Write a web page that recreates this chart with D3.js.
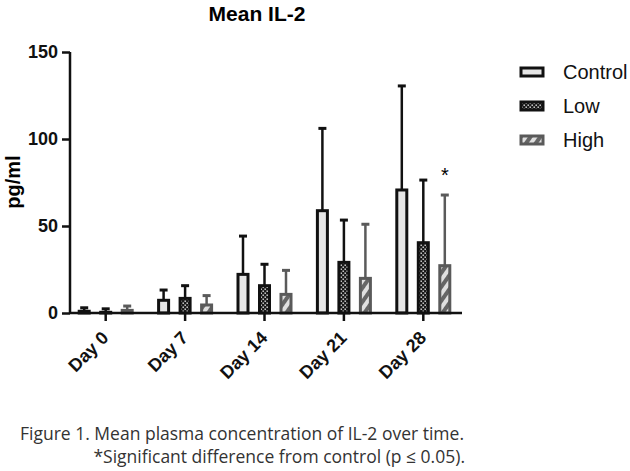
<!DOCTYPE html>
<html>
<head>
<meta charset="utf-8">
<script src="https://cdn.jsdelivr.net/npm/d3@7"></script>
<style>
  body { margin: 0; background: #fff; }
  svg { display: block; }
</style>
</head>
<body>
<div id="chartArea"></div>
<script>
// data
const days = ['Day 0', 'Day 7', 'Day 14', 'Day 21', 'Day 28']
const groups = ['Control', 'Low', 'High']
const controlMean = [1, 7.3, 22.2, 58.8, 70.7]
const controlErr = [3, 13.2, 44.2, 106.1, 130.5]
const lowMean = [0.4, 8.4, 15.7, 29.1, 40.4]
const lowErr = [2.4, 15.7, 28, 53.4, 76.4]
const highMean = [1.5, 4.6, 10.7, 19.9, 27.2]
const highErr = [4, 10, 24.5, 51, 67.8]
const yTicks = [0, 50, 100, 150]
const significant = [{ day: 'Day 28', group: 'High' }]

const width = 630
const height = 471
const font = 'Liberation Sans, Arial, sans-serif'

const svg = d3
  .select('#chartArea')
  .append('svg')
  .attr('width', width)
  .attr('height', height)

// build rows for the bars
const means = { Control: controlMean, Low: lowMean, High: highMean }
const errs = { Control: controlErr, Low: lowErr, High: highErr }
const rows = []
groups.forEach(g => {
  days.forEach((d, i) => {
    rows.push({ day: d, group: g, mean: means[g][i], hi: errs[g][i] })
  })
})

const xScale = d3.scaleBand().domain(days).range([66, 463])
const subScale = d3.scalePoint().domain(groups).range([-21.5, 21.5])
const yScale = d3.scaleLinear().domain([0, 150]).range([313, 52])
const cx = d => xScale(d.day) + xScale.bandwidth() / 2 + subScale(d.group)

// patterns
const defs = svg.append('defs')
const dots = defs
  .append('pattern')
  .attr('id', 'dots')
  .attr('patternUnits', 'userSpaceOnUse')
  .attr('width', 4)
  .attr('height', 4)
dots.append('rect').attr('width', 4).attr('height', 4).attr('fill', '#1a1a1a')
dots.append('rect').attr('x', 0.5).attr('y', 0.5).attr('width', 1.4).attr('height', 1.4).attr('fill', '#e8e8e8')
dots.append('rect').attr('x', 2.5).attr('y', 2.5).attr('width', 1.4).attr('height', 1.4).attr('fill', '#e8e8e8')

const stripes = defs
  .append('pattern')
  .attr('id', 'stripes')
  .attr('patternUnits', 'userSpaceOnUse')
  .attr('width', 8)
  .attr('height', 8)
  .attr('patternTransform', 'rotate(35)')
stripes.append('rect').attr('width', 8).attr('height', 8).attr('fill', '#666')
stripes.append('rect').attr('width', 4).attr('height', 8).attr('fill', '#e0e0e0')

const styles = {
  Control: { fill: '#e6e6e6', stroke: '#111' },
  Low: { fill: 'url(#dots)', stroke: '#111' },
  High: { fill: 'url(#stripes)', stroke: '#5a5a5a' }
}

// title
svg
  .append('text')
  .attr('x', 257)
  .attr('y', 21)
  .attr('text-anchor', 'middle')
  .attr('font-family', font)
  .attr('font-weight', 'bold')
  .attr('font-size', 21)
  .text('Mean IL-2')

// y axis
const yAxis = svg
  .append('g')
  .attr('transform', 'translate(70,0)')
  .call(d3.axisLeft(yScale).tickValues(yTicks).tickSize(8).tickPadding(4))
yAxis.select('.domain').attr('stroke', '#111').attr('stroke-width', 2.5)
  .attr('d', `M0,${yScale(150)}V${yScale(0)}`)
yAxis.selectAll('.tick line').attr('stroke', '#111').attr('stroke-width', 2.5)
yAxis
  .selectAll('.tick text')
  .attr('font-family', font)
  .attr('font-weight', 'bold')
  .attr('font-size', 18)
  .attr('fill', '#111')

svg
  .append('text')
  .attr('transform', 'translate(20,182) rotate(-90)')
  .attr('text-anchor', 'middle')
  .attr('font-family', font)
  .attr('font-weight', 'bold')
  .attr('font-size', 20)
  .text('pg/ml')

// error bars (upper only)
const barW = 10
const errG = svg.append('g')
errG
  .selectAll('line.err')
  .data(rows)
  .join('line')
  .attr('class', 'err')
  .attr('x1', cx)
  .attr('x2', cx)
  .attr('y1', d => yScale(d.mean))
  .attr('y2', d => yScale(d.hi))
  .attr('stroke', d => styles[d.group].stroke)
  .attr('stroke-width', 2.5)
errG
  .selectAll('line.cap')
  .data(rows)
  .join('line')
  .attr('class', 'cap')
  .attr('x1', d => cx(d) - 4)
  .attr('x2', d => cx(d) + 4)
  .attr('y1', d => yScale(d.hi))
  .attr('y2', d => yScale(d.hi))
  .attr('stroke', d => styles[d.group].stroke)
  .attr('stroke-width', 3)

// bars
svg
  .append('g')
  .selectAll('rect')
  .data(rows)
  .join('rect')
  .attr('x', d => cx(d) - barW / 2)
  .attr('y', d => yScale(d.mean))
  .attr('width', barW)
  .attr('height', d => yScale(0) - yScale(d.mean))
  .attr('fill', d => styles[d.group].fill)
  .attr('stroke', d => styles[d.group].stroke)
  .attr('stroke-width', 3)

// significance marks
svg
  .append('g')
  .selectAll('text')
  .data(significant)
  .join('text')
  .attr('x', cx)
  .attr('y', d => {
    const r = rows.find(o => o.day === d.day && o.group === d.group)
    return yScale(r.hi) - 13
  })
  .attr('text-anchor', 'middle')
  .attr('font-family', font)
  .attr('font-size', 20)
  .text('*')

// x axis
const xAxis = svg
  .append('g')
  .attr('transform', 'translate(0,313)')
  .call(d3.axisBottom(xScale).tickSize(8).tickSizeOuter(0))
xAxis.select('.domain').attr('stroke', '#111').attr('stroke-width', 2.5)
  .attr('d', 'M70,0H462')
xAxis.selectAll('.tick line').attr('stroke', '#111').attr('stroke-width', 2.5)
xAxis
  .selectAll('.tick text')
  .attr('font-family', font)
  .attr('font-weight', 'bold')
  .attr('font-size', 18)
  .attr('fill', '#111')
  .attr('text-anchor', 'end')
  .attr('y', 0)
  .attr('dy', 0)
  .attr('transform', 'translate(4,26) rotate(-45)')

// legend
const legend = svg
  .append('g')
  .selectAll('g')
  .data(groups)
  .join('g')
  .attr('transform', (d, i) => `translate(521,${72 + i * 34})`)
legend
  .append('rect')
  .attr('x', 0)
  .attr('y', -4)
  .attr('width', 22)
  .attr('height', 8)
  .attr('fill', d => styles[d].fill)
  .attr('stroke', d => styles[d].stroke)
  .attr('stroke-width', 3)
legend
  .append('text')
  .attr('x', 42)
  .attr('y', 0)
  .attr('dy', '0.36em')
  .attr('font-family', font)
  .attr('font-size', 20)
  .attr('fill', '#111')
  .text(d => d)

// caption
svg
  .append('text')
  .attr('x', 20)
  .attr('y', 440)
  .attr('font-family', 'Open Sans, sans-serif')
  .attr('font-size', 17.5)
  .attr('fill', '#333')
  .text('Figure 1. Mean plasma concentration of IL-2 over time.')
svg
  .append('text')
  .attr('x', 465)
  .attr('y', 463)
  .attr('text-anchor', 'end')
  .attr('font-family', 'Open Sans, sans-serif')
  .attr('font-size', 17.5)
  .attr('fill', '#333')
  .text('*Significant difference from control (p ≤ 0.05).')
</script>
</body>
</html>
